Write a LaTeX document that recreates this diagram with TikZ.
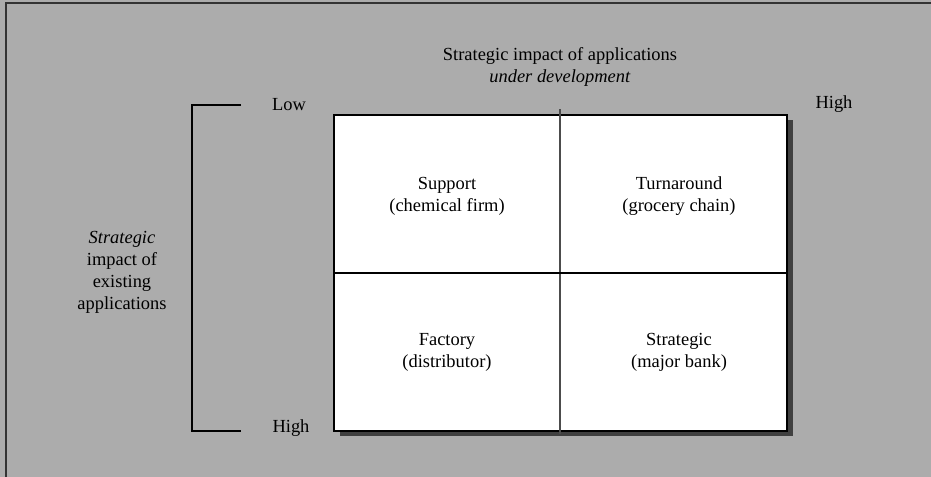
\documentclass[tikz,border=0pt]{standalone}
\usepackage{fontspec}
\setmainfont{Liberation Serif}
\begin{document}
\begin{tikzpicture}[x=0.02cm,y=-0.02cm,
  lbl/.style={font=\fontsize{10.5}{12.5}\selectfont,align=center,inner sep=0pt}]
\fill[gray!65] (0,0) rectangle (931,477);
\useasboundingbox (0,0) rectangle (931,477);
\draw[black!80,line width=0.6pt] (6,477) -- (6,3) -- (931,3);
% the grid
\fill[black!75] (340,120) rectangle (793,436);
\fill[white] (334,115) rectangle (787,431);
\draw[line width=0.6pt] (334,115) rectangle (787,431);
\draw[black!70,line width=0.9pt] (560,109) -- (560,434);
\draw[line width=0.6pt] (334,273) -- (787,273);
\node[lbl] (support) at (447,196) {Support\\(chemical firm)};
\node[lbl] (turnaround) at (679,196) {Turnaround\\(grocery chain)};
\node[lbl] (factory) at (447,352) {Factory\\(distributor)};
\node[lbl] (strategic) at (679,352) {Strategic\\(major bank)};
% the axes
\draw[line width=1.2pt] (241,105) -- (192,105) -- (192,431) -- (241,431);
\node[lbl] (low) at (289,105) {Low};
\node[lbl] (high) at (291,428) {High};
\node[lbl] (highright) at (834,104) {High};
\node[lbl] (title) at (560,67) {Strategic impact of applications\\\textit{under development}};
\node[lbl] (existing) at (122,272) {\textit{Strategic}\\impact of\\existing\\applications};
\end{tikzpicture}
\end{document}
